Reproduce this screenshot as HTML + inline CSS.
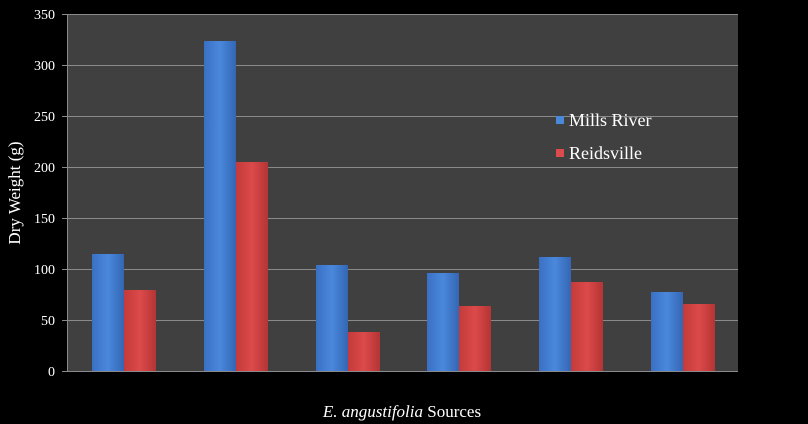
<!DOCTYPE html>
<html><head><style>body{margin:0;background:#000}</style></head><body>
<svg width="808" height="424" xmlns="http://www.w3.org/2000/svg" style="display:block">
<defs>
<linearGradient id="b" x1="0" x2="1"><stop offset="0" stop-color="#3a70c4"/><stop offset="0.5" stop-color="#4a88dc"/><stop offset="1" stop-color="#3466b4"/></linearGradient>
<linearGradient id="r" x1="0" x2="1"><stop offset="0" stop-color="#c43a3a"/><stop offset="0.5" stop-color="#dc4a4a"/><stop offset="1" stop-color="#b43434"/></linearGradient>
</defs>
<rect width="808" height="424" fill="#000"/>
<rect x="67" y="14" width="671" height="357" fill="#404040"/>
<g stroke="#8a8a8a" stroke-width="1">
<line x1="62" x2="738" y1="14.5" y2="14.5"/><line x1="62" x2="738" y1="65.5" y2="65.5"/><line x1="62" x2="738" y1="116.5" y2="116.5"/><line x1="62" x2="738" y1="167.5" y2="167.5"/><line x1="62" x2="738" y1="218.5" y2="218.5"/><line x1="62" x2="738" y1="269.5" y2="269.5"/><line x1="62" x2="738" y1="320.5" y2="320.5"/><line x1="62" x2="738" y1="371.5" y2="371.5"/>
<line x1="67.5" x2="67.5" y1="14" y2="371"/>
</g>
<g font-family="Liberation Serif, serif" font-size="14" fill="#fff" text-anchor="end">
<text x="55" y="19">350</text><text x="55" y="70">300</text><text x="55" y="121">250</text><text x="55" y="172">200</text><text x="55" y="223">150</text><text x="55" y="274">100</text><text x="55" y="325">50</text><text x="55" y="376">0</text>
</g>
<g>
<rect x="92" y="254" width="32" height="117" fill="url(#b)"/><rect x="124" y="290" width="32" height="81" fill="url(#r)"/>
<rect x="204" y="41" width="32" height="330" fill="url(#b)"/><rect x="236" y="162" width="32" height="209" fill="url(#r)"/>
<rect x="316" y="265" width="32" height="106" fill="url(#b)"/><rect x="348" y="332" width="32" height="39" fill="url(#r)"/>
<rect x="427" y="273" width="32" height="98" fill="url(#b)"/><rect x="459" y="306" width="32" height="65" fill="url(#r)"/>
<rect x="539" y="257" width="32" height="114" fill="url(#b)"/><rect x="571" y="282" width="32" height="89" fill="url(#r)"/>
<rect x="651" y="292" width="32" height="79" fill="url(#b)"/><rect x="683" y="304" width="32" height="67" fill="url(#r)"/>
</g>
<rect x="556" y="116" width="8" height="8" fill="#4a88dc"/>
<rect x="556" y="149" width="8" height="8" fill="#dc4a4a"/>
<g font-family="Liberation Serif, serif" font-size="18" fill="#fff">
<text x="569" y="126">Mills River</text>
<text x="569" y="159">Reidsville</text>
</g>
<g font-family="Liberation Serif, serif" font-size="17" fill="#fff">
<text x="402" y="417" text-anchor="middle"><tspan font-style="italic">E. angustifolia</tspan> Sources</text>
<text transform="translate(20,193) rotate(-90)" text-anchor="middle">Dry Weight (g)</text>
</g>
</svg>
</body></html>
